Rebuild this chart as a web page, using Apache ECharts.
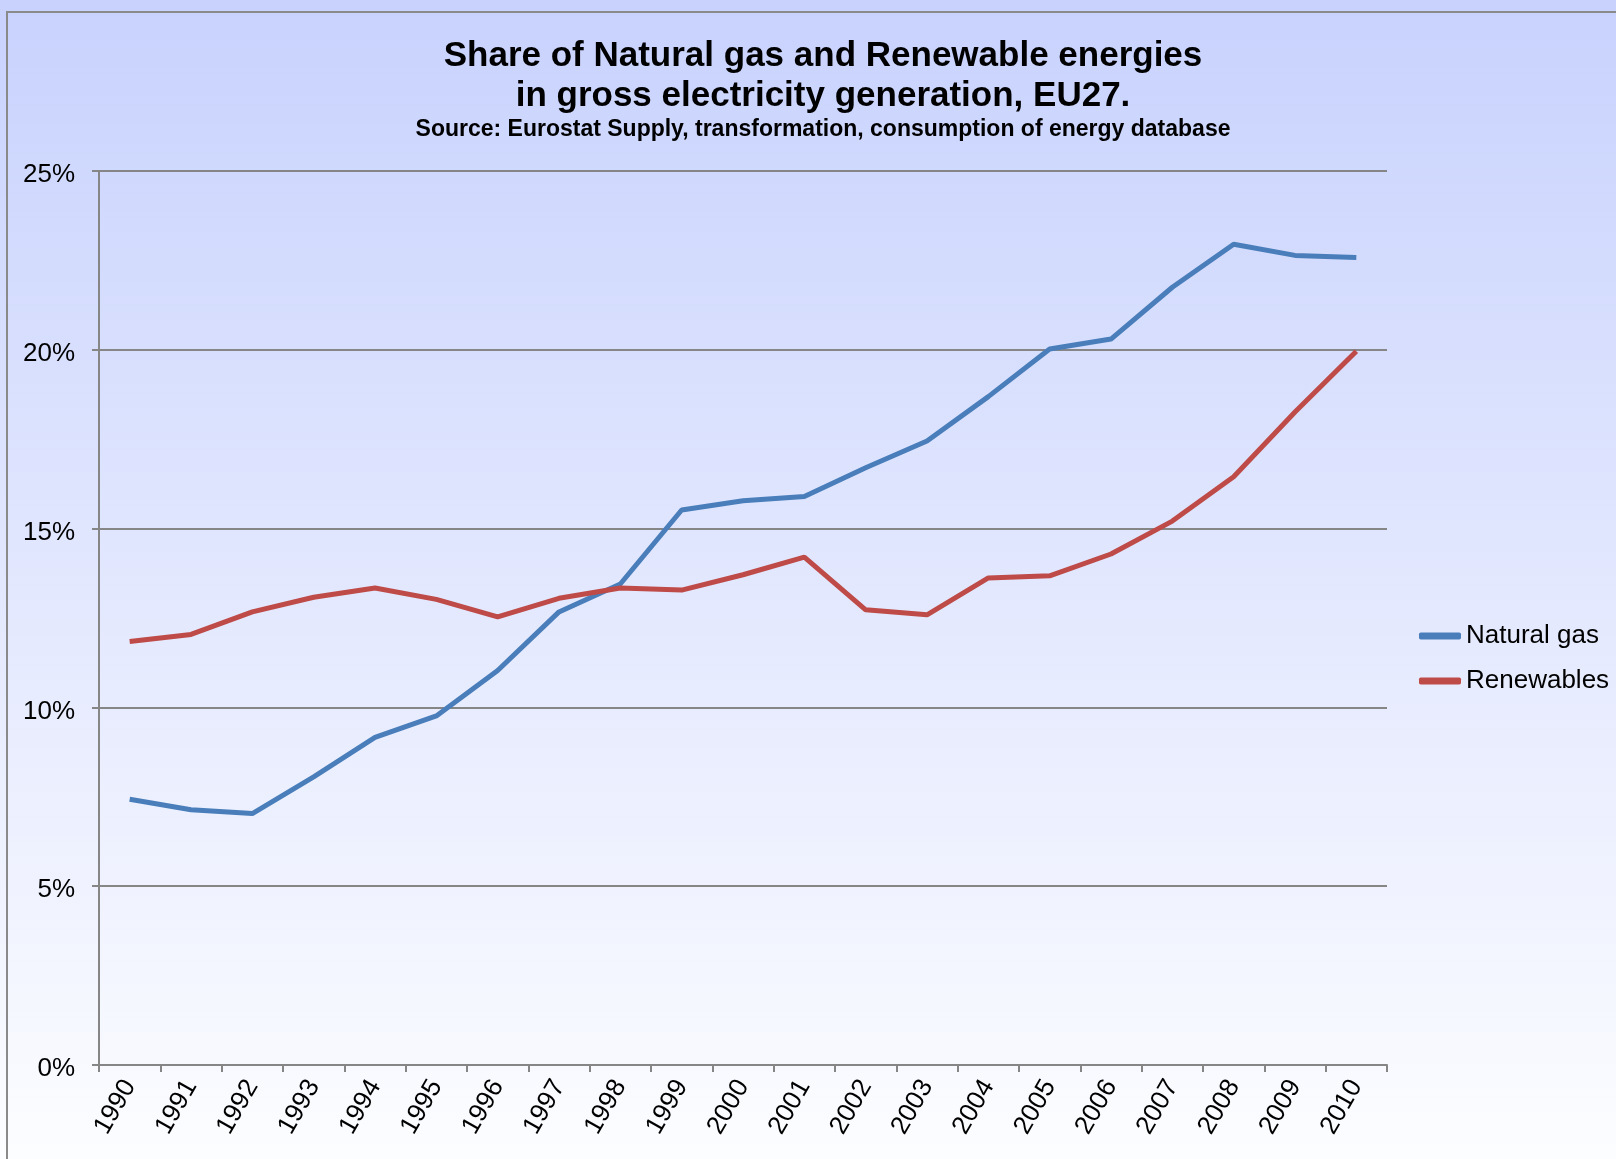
<!DOCTYPE html>
<html>
<head>
<meta charset="utf-8">
<script src="https://cdn.jsdelivr.net/npm/echarts@6/dist/echarts.min.js"></script>
<style>
  html, body { margin: 0; padding: 0; }
  #chart { width: 1616px; height: 1159px; }
</style>
</head>
<body>
<div id="chart"></div>
<script>
// Years on the x axis
const years = ["1990", "1991", "1992", "1993", "1994", "1995", "1996", "1997", "1998", "1999",
    "2000", "2001", "2002", "2003", "2004", "2005", "2006", "2007", "2008", "2009", "2010"];

// Share of gross electricity generation, in %
const naturalGas = [7.43, 7.14, 7.03, 8.06, 9.16, 9.76, 11.03, 12.67, 13.45, 15.52,
    15.78, 15.90, 16.70, 17.45, 18.69, 20.02, 20.30, 21.75, 22.95, 22.64, 22.58];
const renewables = [11.84, 12.04, 12.67, 13.08, 13.34, 13.02, 12.53, 13.05, 13.34, 13.28,
    13.71, 14.20, 12.73, 12.59, 13.62, 13.68, 14.29, 15.21, 16.45, 18.26, 19.96];

const seriesNames = ["Natural gas", "Renewables"];

const font = "Liberation Sans, Arial, sans-serif";
const gray = "#868686";

const chart = echarts.init(document.getElementById("chart"));

const option = {
    animation: false,
    backgroundColor: {
        type: "linear", x: 0, y: 0, x2: 0, y2: 1,
        colorStops: [
            { offset: 0, color: "#c8d2fd" },
            { offset: 1, color: "#fcfdff" },
        ],
    },
    textStyle: { fontFamily: font },
    graphic: [
        {
            // outer frame of the chart
            type: "rect",
            shape: { x: 7, y: 12, width: 1700, height: 1300 },
            style: { fill: "none", stroke: "#8a8a8a", lineWidth: 2 },
        },
        {
            type: "text", x: 823, y: 56,
            style: { text: "Share of Natural gas and Renewable energies", font: "bold 35px " + font,
                fill: "#000", textAlign: "center", textVerticalAlign: "middle" },
        },
        {
            type: "text", x: 823, y: 96,
            style: { text: "in gross electricity generation, EU27.", font: "bold 35px " + font,
                fill: "#000", textAlign: "center", textVerticalAlign: "middle" },
        },
        {
            type: "text", x: 823, y: 130,
            style: { text: "Source: Eurostat Supply, transformation, consumption of energy database",
                font: "bold 23px " + font, fill: "#000", textAlign: "center", textVerticalAlign: "middle" },
        },
    ],
    legend: {
        orient: "vertical",
        left: 1419,
        top: 623,
        padding: 0,
        itemWidth: 42,
        itemHeight: 7,
        itemGap: 19,
        icon: "roundRect",
        textStyle: { fontSize: 26, color: "#000", fontFamily: font },
        data: seriesNames,
    },
    grid: { left: 99, right: 229, top: 171, bottom: 94 },
    xAxis: {
        type: "category",
        data: years,
        boundaryGap: true,
        axisLine: { lineStyle: { color: gray, width: 2 } },
        axisTick: { show: true, length: 7, lineStyle: { color: gray, width: 2 } },
        axisLabel: { rotate: 60, interval: 0, fontSize: 26, color: "#000", margin: 17 },
    },
    yAxis: {
        type: "value",
        min: 0,
        max: 25,
        interval: 5,
        axisLine: { show: true, lineStyle: { color: gray, width: 2 } },
        axisTick: { show: true, length: 7, lineStyle: { color: gray, width: 2 } },
        axisLabel: { formatter: "{value}%", fontSize: 26, color: "#000", margin: 24,
            verticalAlign: "top", lineHeight: 8 },
        splitLine: { lineStyle: { color: gray, width: 2 } },
    },
    series: [
        {
            name: seriesNames[0],
            type: "line",
            data: naturalGas,
            symbol: "none",
            lineStyle: { width: 5, color: "#4a7ebb" },
            itemStyle: { color: "#4a7ebb" },
        },
        {
            name: seriesNames[1],
            type: "line",
            data: renewables,
            symbol: "none",
            lineStyle: { width: 5, color: "#be4b48" },
            itemStyle: { color: "#be4b48" },
        },
    ],
};

chart.setOption(option);
</script>
</body>
</html>
